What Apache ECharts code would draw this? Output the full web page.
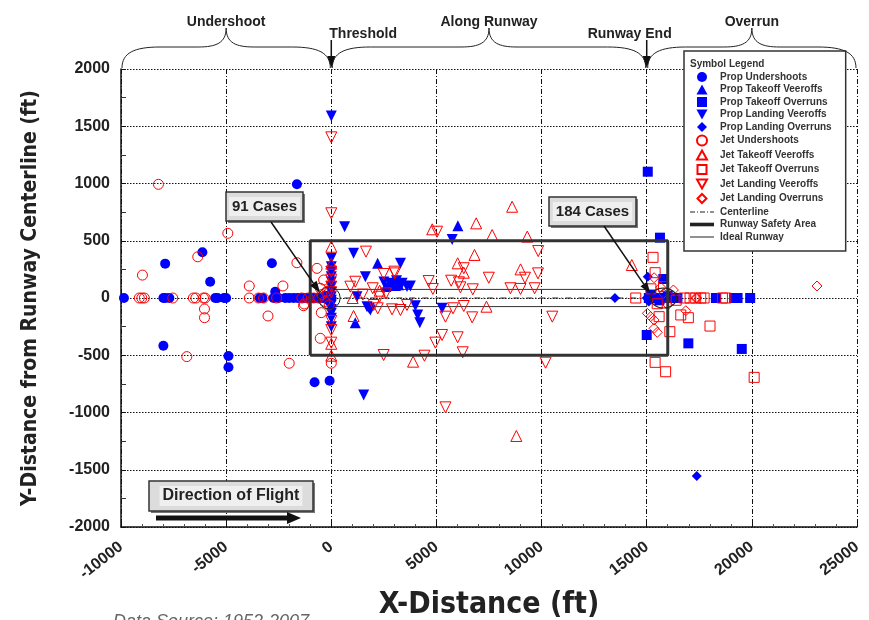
<!DOCTYPE html>
<html><head><meta charset="utf-8">
<script src="https://cdn.jsdelivr.net/npm/echarts@6/dist/echarts.min.js"></script>
<style>html,body{margin:0;padding:0;background:#fff}#c{width:869px;height:620px}</style>
</head><body><div id="c"></div>
<script>
// ---------------- DATA ----------------
const xTicks = [-10000, -5000, 0, 5000, 10000, 15000, 20000, 25000];
const yTicks = [-2000, -1500, -1000, -500, 0, 500, 1000, 1500, 2000];

const propUndershoots = [[-9860,0],[-7985,0],[-7890,0],[-7985,-417],[-7900,300],[-6130,400],[-5760,142],[-5520,0],[-5410,0],[-5000,0],[-4890,-507],[-4890,-605],[-3270,0],[-2825,303],[-2665,55],[-2745,0],[-2510,0],[-2190,0],[-1795,0],[-1635,993],[-1475,0],[-1160,0],[-795,-736],[-760,0],[-445,0],[-205,0],[-80,-722],[-600,0],[-350,0],[-100,0],[0,0],[-1300,0],[-1000,0],[-2000,0],[-1600,0],[-900,0],[-300,20],[-150,-20],[-3400,0],[-5100,0],[-7700,0]];
const propTakeoffVeeroffs = [[6020,632],[2205,303],[1140,-216],[2730,114],[2900,120],[3050,110],[3200,115],[2600,100]];
const propTakeoffOverruns = [[15050,1103],[15630,527],[15790,166],[15000,-323],[16980,-396],[19520,-445],[18290,0],[19160,0],[19320,0],[19920,0],[16460,0],[15100,0],[15300,0],[15500,0],[15700,0],[15900,0],[16100,0],[16300,0],[15200,30],[15600,-20],[16000,20]];
const propLandingVeeroffs = [[0,1590],[635,623],[1060,390],[1620,186],[3290,303],[5750,512],[1540,-847],[1220,11],[1700,-76],[1860,-105],[4000,-67],[4110,-148],[4210,-216],[5270,-90],[3760,105],[3600,100],[3370,128],[2810,128],[2970,114],[0,347],[0,273],[0,186],[0,99],[0,11],[0,-61],[0,-134],[0,-177],[0,-251],[0,50],[0,-20],[0,140],[0,230],[0,-100],[3100,150],[2500,140],[1800,-90]];
const propLandingOverruns = [[13490,0],[17380,-1555],[15050,186],[15000,0],[15200,0],[15400,0],[15600,0],[15800,0],[16000,0],[16200,0],[15100,-30]];
const jetUndershoots = [[-8220,993],[-8980,200],[-9130,0],[-9010,0],[-8890,0],[-7540,0],[-6560,0],[-6440,0],[-6080,0],[-6000,0],[-6030,-96],[-6030,-172],[-6350,360],[-4920,565],[-6870,-512],[-3900,105],[-3900,0],[-3460,0],[-3220,0],[-3010,-157],[-2300,105],[-2000,-570],[-1635,308],[-1320,-67],[-680,259],[-475,-128],[-525,-352],[-365,157],[-840,0],[-600,0],[-1290,-52],[0,-570],[-200,60],[-100,-60],[-1100,0],[-1400,0],[-2600,0],[-300,-30],[-450,30],[-520,85]];
const jetTakeoffVeeroffs = [[6890,652],[7650,550],[6810,376],[6010,303],[4800,600],[1060,-157],[1015,0],[2300,64],[7380,-76],[3890,-556],[0,448],[0,-504],[6300,221],[8600,797],[9320,536],[9000,250],[14290,288],[8800,-1205],[0,-400],[0,300]];
const jetTakeoffOverruns = [[15300,355],[15400,221],[14480,0],[15590,-163],[16620,-148],[16980,-172],[18010,-245],[16100,-294],[15400,-562],[15900,-644],[20110,-693],[16780,0],[17060,0],[17330,0],[17570,0],[17730,0],[18600,0],[18760,0],[15500,-50],[15200,80],[16400,-20],[15800,100]];
const jetLandingVeeroffs = [[0,1403],[0,740],[0,-280],[0,-390],[1650,405],[2490,210],[3020,215],[905,99],[1140,142],[1970,85],[2290,11],[2020,-61],[2210,-90],[2890,-99],[3290,-105],[3600,-61],[4630,148],[4830,79],[5030,579],[5700,151],[6070,137],[6140,93],[6730,76],[7490,177],[5790,-90],[5430,-163],[6300,-70],[6700,-169],[5270,-323],[4950,-390],[6010,-343],[6250,-474],[4430,-504],[2490,-498],[5430,-955],[9840,410],[9210,177],[9830,215],[8520,85],[9000,79],[9670,85],[10510,-163],[10190,-565],[6300,260],[0,230],[0,160],[0,100],[0,-200],[0,50],[2600,40],[1500,30],[3000,230]];
const jetLandingOverruns = [[23100,105],[16270,70],[15350,177],[16860,-111],[15030,-134],[15190,-163],[15350,-192],[15350,-265],[17330,0],[17380,0],[15670,93],[15500,-300],[15800,40],[16000,-60]];

const centerline = [[0,0],[15000,0]];
const runwaySafetyArea = [[-1000,-500],[16000,-500],[16000,500],[-1000,500],[-1000,-500]];
const idealRunway = [[0,-75],[15000,-75],[15000,75],[0,75],[0,-75]];

const zones = [
  {from:-10000, to:0, label:'Undershoot'},
  {from:0, to:15000, label:'Along Runway'},
  {from:15000, to:25000, label:'Overrun'}
];
const markers = [{x:0, label:'Threshold'},{x:15000, label:'Runway End'}];
const clusters = [{x:-100, y:0, label:'91 Cases'},{x:15800, y:0, label:'184 Cases'}];

// ---------------- CHART ----------------
const chart = echarts.init(document.getElementById('c'));
const BLUE = '#0000ff', RED = '#ff0000';
const DOWN = 'path://M0,0 L10,0 L5,10 Z';
function filled(name, data, symbol, size){
  return {name, type:'scatter', data, symbol, symbolSize:size,
    itemStyle:{color:BLUE, opacity:1}, z:4, silent:true};
}
function hollow(name, data, symbol, size){
  return {name, type:'scatter', data, symbol, symbolSize:size,
    itemStyle:{color:'rgba(255,255,255,0)', borderColor:RED, borderWidth:1, opacity:1}, z:5, silent:true};
}
const series = [
  filled('Prop Undershoots', propUndershoots, 'circle', 10),
  filled('Prop Takeoff Veeroffs', propTakeoffVeeroffs, 'triangle', 11),
  filled('Prop Takeoff Overruns', propTakeoffOverruns, 'rect', 10),
  filled('Prop Landing Veeroffs', propLandingVeeroffs, DOWN, 11),
  filled('Prop Landing Overruns', propLandingOverruns, 'diamond', 10),
  hollow('Jet Undershoots', jetUndershoots, 'circle', 10),
  hollow('Jet Takeoff Veeroffs', jetTakeoffVeeroffs, 'triangle', 11),
  hollow('Jet Takeoff Overruns', jetTakeoffOverruns, 'rect', 10),
  hollow('Jet Landing Veeroffs', jetLandingVeeroffs, DOWN, 11),
  hollow('Jet Landing Overruns', jetLandingOverruns, 'diamond', 10),
  {name:'Centerline', type:'line', data:centerline, symbol:'none', silent:true, z:3,
    lineStyle:{color:'#222', width:1, type:[6,3,1,3]}, itemStyle:{color:'#222'}},
  {name:'Runway Safety Area', type:'line', data:runwaySafetyArea, symbol:'none', silent:true, z:6,
    lineStyle:{color:'#333', width:3}, itemStyle:{color:'#222'}},
  {name:'Ideal Runway', type:'line', data:idealRunway, symbol:'none', silent:true, z:3,
    lineStyle:{color:'#333', width:1}, itemStyle:{color:'#222'}}
];

// legend icons: 24x10 box, shape drawn centred at native size
const BOX = 'M0,0 M24,10 ';
const legendIcons = [
  'M7,5 A5,5 0 1,0 17,5 A5,5 0 1,0 7,5 Z',
  'M12,0 L17.5,10 L6.5,10 Z',
  'M7,0 L17,0 L17,10 L7,10 Z',
  'M6.5,0 L17.5,0 L12,10 Z',
  'M12,0 L17,5 L12,10 L7,5 Z',
  'M7,5 A5,5 0 1,0 17,5 A5,5 0 1,0 7,5 Z',
  'M12,0.5 L17,9.5 L7,9.5 Z',
  'M7.5,0.5 L16.5,0.5 L16.5,9.5 L7.5,9.5 Z',
  'M7,0.5 L17,0.5 L12,9.5 Z',
  'M12,0.5 L16.5,5 L12,9.5 L7.5,5 Z',
  'M0,4.5 L5,4.5 L5,5.5 L0,5.5 Z M7,4.5 L8,4.5 L8,5.5 L7,5.5 Z M10,4.5 L15,4.5 L15,5.5 L10,5.5 Z M17,4.5 L18,4.5 L18,5.5 L17,5.5 Z M20,4.5 L24,4.5 L24,5.5 L20,5.5 Z',
  'M0,3.2 L24,3.2 L24,6.8 L0,6.8 Z',
  'M0,4.5 L24,4.5 L24,5.5 L0,5.5 Z'
];

const option = {
  animation:false,
  backgroundColor:'#fff',
  grid:{left:121, right:12, top:69, bottom:93, containLabel:false, outerBoundsMode:'none'},
  xAxis:{type:'value', min:xTicks[0], max:xTicks[xTicks.length-1], interval:5000,
    axisLine:{onZero:false, lineStyle:{color:'#111', width:1.5}},
    axisTick:{show:true, inside:true, length:5, lineStyle:{color:'#111'}},
    minorTick:{show:true, splitNumber:5, length:3, lineStyle:{color:'#555'}},
    splitLine:{show:true, lineStyle:{color:'#111', width:1, type:[5,2,1,2]}},
    axisLabel:{rotate:38, fontFamily:'Liberation Sans', fontWeight:'bold', fontSize:16, color:'#222', margin:18,
      formatter:v=>String(v)},
    name:'X-Distance (ft)', nameLocation:'middle', nameGap:63,
    nameTextStyle:{fontFamily:'DejaVu Sans Condensed', fontWeight:'bold', fontSize:30, color:'#222'}
  },
  yAxis:{type:'value', min:yTicks[0], max:yTicks[yTicks.length-1], interval:500,
    axisLine:{show:true, onZero:false, lineStyle:{color:'#111', width:1.5}},
    axisTick:{show:true, inside:true, length:5, lineStyle:{color:'#111'}},
    minorTick:{show:true, splitNumber:2, length:5, lineStyle:{color:'#333'}},
    splitLine:{show:true, lineStyle:{color:'#111', width:1, type:[1.5,1.5]}},
    axisLabel:{fontFamily:'Liberation Sans', fontWeight:'bold', fontSize:16, color:'#222', margin:11,
      formatter:v=>String(v)},
    name:'Y-Distance from Runway Centerline (ft)', nameLocation:'middle', nameGap:80, nameRotate:90,
    nameTextStyle:{fontFamily:'DejaVu Sans Condensed', fontWeight:'bold', fontSize:21, color:'#222'}
  },
  legend:{orient:'vertical', left:684, top:51, itemWidth:24, itemHeight:10, itemGap:2.5,
    padding:[21,14,9,5], backgroundColor:'#fff', borderColor:'#333', borderWidth:1.5,
    selectedMode:false,
    textStyle:{fontFamily:'Liberation Sans', fontWeight:'bold', fontSize:10, color:'#333', padding:[0,0,0,1]},
    data:series.map((s,i)=>({name:s.name, icon:'path://' + BOX + legendIcons[i]})), z:10},
  series
};
chart.setOption(option);

// ---------------- ANNOTATIONS ----------------
function P(x,y){ return chart.convertToPixel({gridIndex:0}, [x,y]); }
const g = [];
function arrow(x1,y1,x2,y2,w,hl,hw){
  const ang = Math.atan2(y2-y1, x2-x1), c=Math.cos(ang), s=Math.sin(ang);
  const bx = x2 - hl*c, by = y2 - hl*s;
  g.push({type:'line', shape:{x1,y1,x2:bx,y2:by}, style:{stroke:'#111', lineWidth:w}, z:20});
  g.push({type:'polygon', shape:{points:[[x2,y2],[bx - hw*s, by + hw*c],[bx + hw*s, by - hw*c]]}, style:{fill:'#111'}, z:20});
}
function bz(x1,y1,cpx1,cpy1,cpx2,cpy2,x2,y2){
  g.push({type:'bezierCurve', shape:{x1,y1,cpx1,cpy1,cpx2,cpy2,x2,y2}, style:{fill:null, stroke:'#222', lineWidth:1}, z:20});
}
function seg(x1,y1,x2,y2){
  g.push({type:'line', shape:{x1,y1,x2,y2}, style:{stroke:'#222', lineWidth:1}, z:20});
}
const topY = P(0,2000)[1];
zones.forEach(zn=>{
  const a = P(zn.from,2000)[0]+1, b = P(zn.to,2000)[0]-1, m=(a+b)/2;
  const yE = topY-1, yM = topY-22, yP = topY-41;
  bz(a,yE, a,yM+6, a+12,yM, a+38,yM);
  seg(a+38,yM, m-28,yM);
  bz(m-28,yM, m-10,yM, m,yM-4, m,yP);
  bz(m,yP, m,yM-4, m+10,yM, m+28,yM);
  seg(m+28,yM, b-38,yM);
  bz(b-38,yM, b-12,yM, b,yM+6, b,yE);
  g.push({type:'text', x:m, y:yP+1, style:{text:zn.label, fill:'#222', font:'bold 14px "Liberation Sans"', textAlign:'center', textVerticalAlign:'bottom'}, z:20});
});
markers.forEach((mk,i)=>{
  const x = P(mk.x,2000)[0];
  arrow(x, topY-29, x, topY-1, 1.5, 12, 4);
  if(i===0) g.push({type:'text', x:x-2, y:topY-35, style:{text:mk.label, fill:'#222', font:'bold 14px "Liberation Sans"', textAlign:'left', textVerticalAlign:'middle'}, z:21});
  else g.push({type:'text', x:x-17, y:topY-35, style:{text:mk.label, fill:'#222', font:'bold 14px "Liberation Sans"', textAlign:'center', textVerticalAlign:'middle'}, z:21});
});
function box(x,y,w,h,text,fs){
  g.push({type:'rect', shape:{x:x+2,y:y+2,width:w,height:h}, style:{fill:'#777'}, z:19});
  g.push({type:'rect', shape:{x,y,width:w,height:h}, style:{fill:'#dcdcdc', stroke:'#333', lineWidth:1.5}, z:20});
  g.push({type:'text', x:x+w/2, y:y+h/2, style:{text, fill:'#222', font:`bold ${fs}px "Liberation Sans"`, textAlign:'center', textVerticalAlign:'middle', backgroundColor:'#efefef', padding:[2,3]}, z:21});
}
// 91 cases
{
  const c = P(clusters[0].x, clusters[0].y);
  g.push({type:'circle', shape:{cx:c[0], cy:c[1], r:11}, style:{fill:null, stroke:'#222', lineWidth:1}, z:20});
  box(226,192,77,29,clusters[0].label,15);
  arrow(271,222,c[0]-9,c[1]-5,1.5,12,4);
}
// 184 cases
{
  const c = P(clusters[1].x, clusters[1].y);
  g.push({type:'circle', x:c[0], y:c[1], scaleX:1.3, shape:{cx:0, cy:0, r:10}, style:{fill:null, stroke:'#222', lineWidth:1, strokeNoScale:true}, z:20});
  box(549,197,87,29,clusters[1].label,15);
  arrow(604,226,c[0]-13,c[1]-4,1.5,12,4);
}
// Direction of flight
box(149,481,164,30,'Direction of Flight',16);
arrow(156,518,301,518,5,14,6);
// Legend title
g.push({type:'text', left:690, top:59, style:{text:'Symbol Legend', fill:'#333', font:'bold 10px "Liberation Sans"'}, z:30});
// Data source (cut off at bottom)
g.push({type:'text', left:113, top:613, style:{text:'Data Source: 1952-2007', fill:'#666', font:'italic 18px "Liberation Sans"'}, z:30});
chart.setOption({graphic:g});
</script></body></html>
